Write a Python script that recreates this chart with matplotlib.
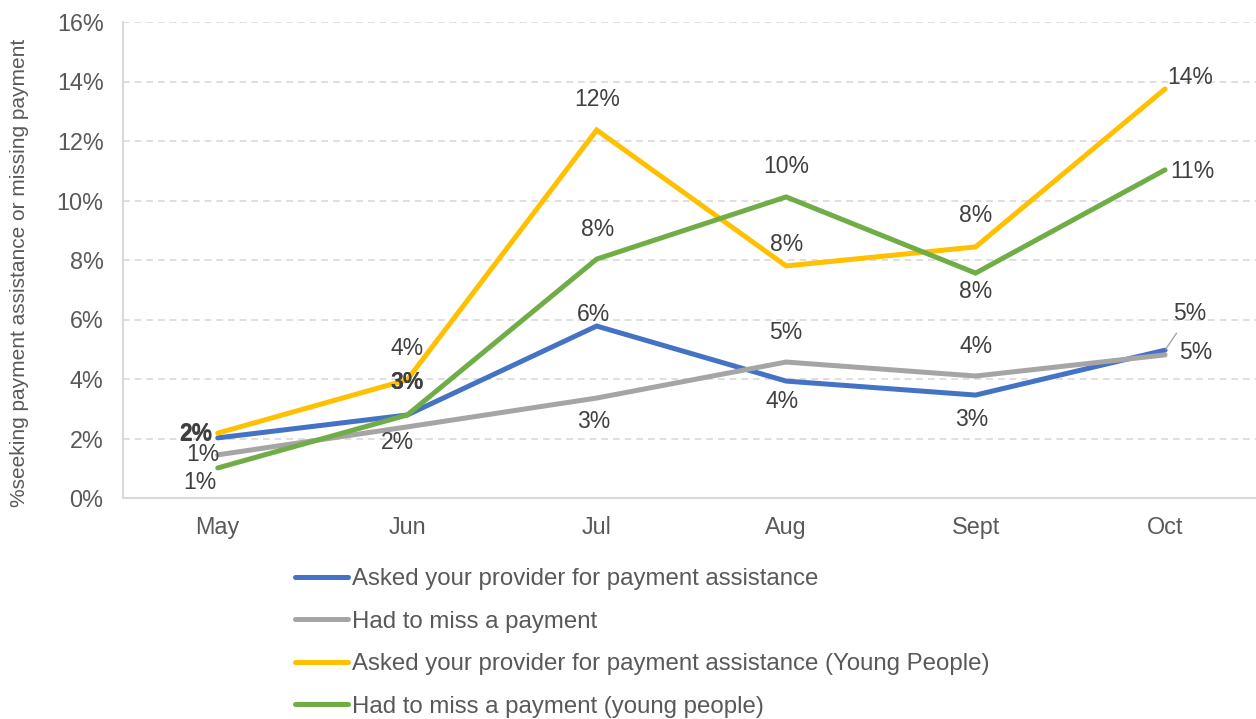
import matplotlib.pyplot as plt
from matplotlib.ticker import FuncFormatter

plt.rcParams['font.family'] = ['Liberation Sans', 'DejaVu Sans']

months = ['May', 'Jun', 'Jul', 'Aug', 'Sept', 'Oct']

asked_help = [2.02, 2.79, 5.78, 3.93, 3.46, 4.97]
missed = [1.45, 2.39, 3.36, 4.57, 4.10, 4.81]
asked_help_young = [2.18, 3.97, 12.37, 7.80, 8.44, 13.75]
missed_young = [1.01, 2.79, 8.03, 10.12, 7.56, 11.03]

series_names = [
    'Asked your provider for payment assistance',
    'Had to miss a payment',
    'Asked your provider for payment assistance (Young People)',
    'Had to miss a payment (young people)',
]
colors = ['#4472C4', '#A5A5A5', '#FFC000', '#70AD47']

# label offsets in pixels (dx, dy) relative to each point, screen y down
label_offsets = [
    [(-22, -4), (0, -32), (-3, -12), (-4, 20), (-4, 24), (25, -37)],
    [(-15, 0), (-10, 16), (-3, 23), (0, -30), (0, -30), (31, -2)],
    [(-22, 1), (0, -31), (1, -30), (0, -21), (0, -31), (25, -11)],
    [(-18, 15), (0, -32), (1, -30), (0, -30), (0, 18), (27, 2)],
]
# labels drawn on top of each other in the original, they come out bold
bold_labels = [(0, 0), (2, 0), (0, 1), (3, 1)]

fig = plt.figure(figsize=(12.56, 7.19), dpi=100)
ax = fig.add_axes([123 / 1256, 1 - 498 / 719, 1133 / 1256, 476 / 719])

x = list(range(len(months)))
all_series = [asked_help, missed, asked_help_young, missed_young]

for i, (vals, name, col) in enumerate(zip(all_series, series_names, colors)):
    ax.plot(x, vals, color=col, lw=3.6, label=name, zorder=3 + i,
            solid_capstyle='round', solid_joinstyle='miter')

for i, vals in enumerate(all_series):
    for j, v in enumerate(vals):
        dx, dy = label_offsets[i][j]
        props = None
        if i == 0 and j == 5:
            props = dict(arrowstyle='-', color='#A5A5A5', lw=1.0, shrinkA=5, shrinkB=1)
        ax.annotate(f'{round(v)}%', (j, v), xytext=(dx * 0.72, -dy * 0.72),
                    textcoords='offset points', ha='center', va='center',
                    fontsize=16.5, color='#404040', zorder=10, arrowprops=props,
                    fontweight='bold' if (i, j) in bold_labels else 'normal')

ax.set_xlim(-0.5, 5.48)
ax.set_ylim(0, 16)
ax.set_yticks(range(0, 17, 2))
ax.yaxis.set_major_formatter(FuncFormatter(lambda v, p: f'{v:.0f}%'))
ax.set_xticks(x)
ax.set_xticklabels(months)
ax.tick_params(axis='both', length=0, labelsize=16.8, labelcolor='#595959')
ax.tick_params(axis='x', pad=13)
ax.tick_params(axis='y', pad=14)

ax.grid(axis='y', color='#D9D9D9', linestyle=(0, (4, 3)), lw=1.2, zorder=0)
for s in ['top', 'right']:
    ax.spines[s].set_visible(False)
for s in ['left', 'bottom']:
    ax.spines[s].set_color('#D9D9D9')
    ax.spines[s].set_linewidth(1.5)

ax.set_ylabel('%seeking payment assistance or missing payment', fontsize=15, color='#595959')
ax.yaxis.set_label_coords(-0.083, 0.473)

leg = fig.legend(loc='upper left', bbox_to_anchor=(295 / 1256, 1 - 568 / 719), frameon=False,
                 fontsize=17.25, handlelength=2.2, handletextpad=0.2, labelspacing=0.86,
                 borderaxespad=0, borderpad=0)
for t in leg.get_texts():
    t.set_color('#595959')

fig.savefig('out.png', dpi=100)
